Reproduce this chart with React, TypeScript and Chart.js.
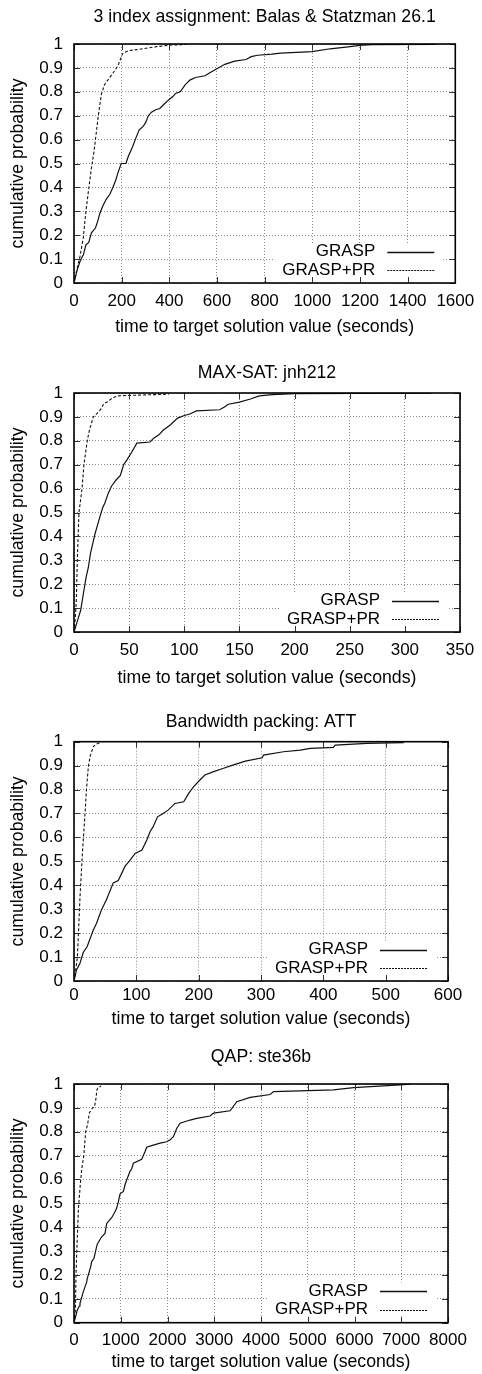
import React, { useEffect, useRef } from 'react';
import { Chart, registerables } from 'chart.js';

Chart.register(...registerables);

// ---------- data ----------
const SERIES_NAMES = ['GRASP', 'GRASP+PR'];
const X_AXIS_TITLE = 'time to target solution value (seconds)';
const Y_AXIS_TITLE = 'cumulative probability';

const Y_TICKS = [0, 0.1, 0.2, 0.3, 0.4, 0.5, 0.6, 0.7, 0.8, 0.9, 1];
const Y_TICK_LABELS = ['0', '0.1', '0.2', '0.3', '0.4', '0.5', '0.6', '0.7', '0.8', '0.9', '1'];

const TITLE_ASSIGN = '3 index assignment: Balas & Statzman 26.1';
const TITLE_MAXSAT = 'MAX-SAT: jnh212';
const TITLE_BWP = 'Bandwidth packing: ATT';
const TITLE_QAP = 'QAP: ste36b';

const X_TICKS_ASSIGN = [0, 200, 400, 600, 800, 1000, 1200, 1400, 1600];
const X_TICKS_MAXSAT = [0, 50, 100, 150, 200, 250, 300, 350];
const X_TICKS_BWP = [0, 100, 200, 300, 400, 500, 600];
const X_TICKS_QAP = [0, 1000, 2000, 3000, 4000, 5000, 6000, 7000, 8000];

const ASSIGN_GRASP: [number, number][] = [
  [0, 0], [12, 0.05], [25, 0.09], [40, 0.12], [50, 0.16], [62, 0.17], [73, 0.21], [90, 0.23],
  [100, 0.26], [108, 0.29], [120, 0.32], [135, 0.35], [150, 0.37], [163, 0.4], [175, 0.43],
  [184, 0.46], [198, 0.5], [218, 0.5], [228, 0.53], [246, 0.57], [257, 0.6], [273, 0.64],
  [290, 0.655], [300, 0.67], [312, 0.7], [325, 0.715], [343, 0.725], [360, 0.73], [380, 0.75],
  [398, 0.767], [415, 0.78], [426, 0.793], [446, 0.8], [467, 0.83], [488, 0.85], [510, 0.86],
  [550, 0.867], [570, 0.88], [605, 0.9], [633, 0.915], [674, 0.928], [722, 0.935], [743, 0.947],
  [771, 0.953], [830, 0.958], [867, 0.962], [999, 0.968], [1075, 0.98], [1150, 0.988],
  [1199, 0.994], [1250, 0.997], [1520, 0.998],
];
const ASSIGN_PR: [number, number][] = [
  [0, 0], [15, 0.07], [25, 0.11], [39, 0.19], [50, 0.3], [60, 0.38], [73, 0.48], [84, 0.55],
  [90, 0.6], [102, 0.7], [115, 0.79], [128, 0.83], [150, 0.86], [168, 0.885], [185, 0.91],
  [204, 0.96], [228, 0.972], [273, 0.978], [340, 0.988], [398, 0.995], [473, 0.998],
];

const MAXSAT_GRASP: [number, number][] = [
  [0, 0], [2, 0.03], [4, 0.06], [6, 0.09], [8.5, 0.16], [11, 0.23], [13, 0.27], [15, 0.33],
  [17, 0.37], [19, 0.41], [21.5, 0.45], [24, 0.49], [26, 0.52], [28, 0.54], [31, 0.58],
  [34, 0.61], [38, 0.635], [42, 0.655], [45, 0.7], [48, 0.72], [52, 0.75], [57, 0.79],
  [69, 0.795], [72, 0.81], [77, 0.825], [81, 0.845], [87, 0.865], [94, 0.895], [100, 0.906],
  [105, 0.912], [111, 0.925], [132, 0.93], [136, 0.94], [140, 0.953], [150, 0.962],
  [160, 0.975], [168, 0.988], [180, 0.993], [200, 0.997], [323, 0.999],
];
const MAXSAT_PR: [number, number][] = [
  [0, 0], [1, 0.05], [2, 0.12], [3, 0.3], [4.5, 0.5], [7.3, 0.6], [9, 0.7], [12, 0.8],
  [14, 0.845], [17.5, 0.9], [21, 0.915], [24, 0.93], [27, 0.955], [30, 0.962], [35, 0.98],
  [40, 0.988], [50, 0.99], [86, 0.995],
];

const BWP_GRASP: [number, number][] = [
  [0, 0], [4, 0.046], [9.6, 0.074], [15, 0.12], [21, 0.143], [31, 0.213], [36, 0.24],
  [44, 0.297], [52, 0.34], [63, 0.41], [71, 0.42], [82, 0.48], [90, 0.505], [98, 0.533],
  [109, 0.547], [117, 0.59], [122, 0.624], [127, 0.645], [134, 0.686], [143, 0.7],
  [151, 0.714], [162, 0.742], [176, 0.749], [184, 0.784], [192, 0.812], [202, 0.84],
  [210, 0.861], [224, 0.875], [240, 0.889], [256, 0.903], [275, 0.919], [302, 0.933],
  [304, 0.944], [336, 0.958], [363, 0.965], [379, 0.972], [416, 0.976], [419, 0.986],
  [470, 0.993], [529, 0.996],
];
const BWP_PR: [number, number][] = [
  [0, 0], [3, 0.05], [5.4, 0.1], [8, 0.25], [9.6, 0.35], [13.4, 0.53], [17.7, 0.7],
  [20, 0.8], [23, 0.895], [26, 0.94], [31, 0.98], [36, 0.99], [42, 0.997],
];

const QAP_GRASP: [number, number][] = [
  [0, 0], [40, 0.03], [71, 0.053], [114, 0.07], [128, 0.081], [200, 0.13], [271, 0.17],
  [285, 0.186], [357, 0.235], [378, 0.256], [428, 0.27], [485, 0.32], [500, 0.33],
  [592, 0.36], [663, 0.374], [700, 0.416], [806, 0.44], [877, 0.465], [913, 0.48],
  [949, 0.507], [985, 0.54], [1056, 0.55], [1092, 0.578], [1127, 0.598], [1199, 0.634],
  [1234, 0.645], [1270, 0.668], [1449, 0.685], [1520, 0.717], [1556, 0.735], [1662, 0.742],
  [1842, 0.752], [1983, 0.758], [2056, 0.766], [2126, 0.779], [2199, 0.815], [2269, 0.836],
  [2483, 0.849], [2626, 0.856], [2911, 0.866], [2983, 0.878], [3340, 0.888], [3482, 0.926],
  [3768, 0.944], [4196, 0.956], [4268, 0.968], [5552, 0.975], [5980, 0.985], [6979, 0.996],
  [7193, 0.999],
];
const QAP_PR: [number, number][] = [
  [0, 0], [30, 0.05], [43, 0.2], [60, 0.3], [95, 0.48], [135, 0.58], [170, 0.65],
  [210, 0.7], [250, 0.8], [290, 0.83], [330, 0.88], [400, 0.9], [440, 0.905], [470, 0.94],
  [490, 0.975], [506, 0.982], [578, 0.992],
];

// ---------- layout / style ----------
const FONT_FAMILY = '"Liberation Sans", Arial, Helvetica, sans-serif';
const FONT_SIZE = 17;
const TITLE_SIZE = 17.7;
const LINE_H = FONT_SIZE * 1.2;
const TITLE_LINE_H = TITLE_SIZE * 1.2;
const CANVAS_W = 482;
const PLOT_LEFT = 74;
const YLABEL_RIGHT = 63;
const YTITLE_CX = 18.5;

type Layout = {
  top: number; bottom: number; titleCenter: number; plotTop: number; plotBottom: number;
  plotRight: number; tickGap: number; xTitleCenter: number;
};

const framePlugin = {
  id: 'gnuframe',
  afterDatasetsDraw(chart: any) {
    const { ctx, chartArea } = chart;
    const { left, right, top, bottom } = chartArea;
    const xs = chart.scales.x;
    const ys = chart.scales.y;
    ctx.save();
    // key area (grid hole)
    ctx.fillStyle = '#ffffff';
    ctx.fillRect(right - 180, bottom - 40, 168, 40);

    // inward tick marks on all four sides
    ctx.strokeStyle = '#333';
    ctx.lineWidth = 1;
    ctx.setLineDash([]);
    ctx.beginPath();
    const tl = 6;
    xs.ticks.forEach((t: any) => {
      const px = Math.round(xs.getPixelForValue(t.value)) + 0.5;
      ctx.moveTo(px, bottom); ctx.lineTo(px, bottom - tl);
      ctx.moveTo(px, top); ctx.lineTo(px, top + tl);
    });
    ys.ticks.forEach((t: any) => {
      const py = Math.round(ys.getPixelForValue(t.value)) + 0.5;
      ctx.moveTo(left, py); ctx.lineTo(left + tl, py);
      ctx.moveTo(right, py); ctx.lineTo(right - tl, py);
    });
    ctx.stroke();

    // border
    ctx.strokeStyle = '#000';
    ctx.lineWidth = 1.6;
    ctx.strokeRect(left, top, right - left, bottom - top);

    // key
    ctx.fillStyle = '#000';
    ctx.font = `${FONT_SIZE}px ${FONT_FAMILY}`;
    ctx.textAlign = 'right';
    ctx.textBaseline = 'middle';
    const rows = [bottom - 31.5, bottom - 13];
    chart.data.datasets.forEach((ds: any, i: number) => {
      const y = rows[i];
      ctx.fillText(ds.label, right - 80, y);
      ctx.beginPath();
      ctx.strokeStyle = '#111';
      ctx.lineWidth = i === 0 ? 1.3 : 1;
      ctx.setLineDash(i === 0 ? [] : [2, 1]);
      ctx.moveTo(right - 68, Math.round(y) + 0.5);
      ctx.lineTo(right - 21, Math.round(y) + 0.5);
      ctx.stroke();
    });
    ctx.restore();
  },
};

function Panel(props: {
  title: string; grasp: [number, number][]; pr: [number, number][]; xTicks: number[]; layout: Layout;
}) {
  const { title, grasp, pr, xTicks, layout: L } = props;
  const ref = useRef<HTMLCanvasElement | null>(null);
  const H = L.bottom - L.top;

  useEffect(() => {
    if (!ref.current) return;
    const font = { family: FONT_FAMILY, size: FONT_SIZE, weight: 'normal' as const, lineHeight: 1.2 };
    const tfont = { family: FONT_FAMILY, size: TITLE_SIZE, weight: 'normal' as const, lineHeight: 1.2 };
    const chart = new Chart(ref.current, {
      type: 'scatter',
      data: {
        datasets: [
          {
            label: SERIES_NAMES[0],
            data: grasp.map(([x, y]) => ({ x, y })),
            showLine: true,
            borderColor: '#111',
            borderWidth: 1.2,
            pointRadius: 0,
            fill: false,
            tension: 0,
          },
          {
            label: SERIES_NAMES[1],
            data: pr.map(([x, y]) => ({ x, y })),
            showLine: true,
            borderColor: '#111',
            borderWidth: 1.1,
            borderDash: [3, 2],
            pointRadius: 0,
            fill: false,
            tension: 0,
          },
        ],
      },
      options: {
        animation: false,
        responsive: false,
        maintainAspectRatio: false,
        events: [],
        layout: { padding: { left: 0, right: CANVAS_W - L.plotRight, top: 0, bottom: 0 } },
        plugins: {
          legend: { display: false },
          tooltip: { enabled: false },
          title: {
            display: true,
            text: title,
            fullSize: false,
            color: '#000',
            font: tfont,
            padding: {
              top: L.titleCenter - L.top - TITLE_LINE_H / 2,
              bottom: L.plotTop - L.titleCenter - TITLE_LINE_H / 2,
            },
          },
        },
        scales: {
          x: {
            type: 'linear',
            min: xTicks[0],
            max: xTicks[xTicks.length - 1],
            afterBuildTicks: (s: any) => { s.ticks = xTicks.map((v) => ({ value: v })); },
            afterFit: (s: any) => { s.height = L.bottom - L.plotBottom; },
            grid: { drawTicks: false, color: '#8c8c8c', lineWidth: 1 },
            border: { display: false, dash: [1, 2] },
            ticks: {
              padding: L.tickGap - LINE_H / 2,
              color: '#000',
              font,
              maxRotation: 0,
              autoSkip: false,
              callback: (v: any) => String(v),
            },
            title: {
              display: true,
              text: X_AXIS_TITLE,
              color: '#000',
              font: tfont,
              padding: { top: 0, bottom: L.bottom - L.xTitleCenter - TITLE_LINE_H / 2 },
            },
          },
          y: {
            type: 'linear',
            min: 0,
            max: 1,
            afterBuildTicks: (s: any) => { s.ticks = Y_TICKS.map((v) => ({ value: v })); },
            afterFit: (s: any) => { s.width = PLOT_LEFT; },
            grid: { drawTicks: false, color: '#8c8c8c', lineWidth: 1 },
            border: { display: false, dash: [1, 2] },
            ticks: {
              padding: PLOT_LEFT - YLABEL_RIGHT,
              color: '#000',
              font,
              autoSkip: false,
              callback: (_v: any, i: number) => Y_TICK_LABELS[i],
            },
            title: {
              display: true,
              text: Y_AXIS_TITLE,
              color: '#000',
              font: tfont,
              padding: { top: YTITLE_CX - TITLE_LINE_H / 2, bottom: 0 },
            },
          },
        },
      },
      plugins: [framePlugin],
    } as any);
    return () => chart.destroy();
  }, []);

  return (
    <canvas
      ref={ref}
      width={CANVAS_W}
      height={H}
      style={{ position: 'absolute', left: 0, top: L.top, width: CANVAS_W, height: H, display: 'block' }}
    />
  );
}

const LAYOUTS: Layout[] = [
  { top: 0, bottom: 340, titleCenter: 17.5, plotTop: 44, plotBottom: 283, plotRight: 460, tickGap: 18, xTitleCenter: 327 },
  { top: 345, bottom: 692, titleCenter: 373.5, plotTop: 393, plotBottom: 632, plotRight: 460, tickGap: 18, xTitleCenter: 678 },
  { top: 700, bottom: 1032, titleCenter: 721.7, plotTop: 741.7, plotBottom: 981, plotRight: 448, tickGap: 14, xTitleCenter: 1019 },
  { top: 1036, bottom: 1374, titleCenter: 1057.5, plotTop: 1084, plotBottom: 1322.7, plotRight: 448, tickGap: 18, xTitleCenter: 1362.5 },
];

export default function App() {
  return (
    <div style={{ position: 'absolute', left: 0, top: 0, width: CANVAS_W, height: 1374, background: '#fff', overflow: 'hidden' }}>
      <Panel title={TITLE_ASSIGN} grasp={ASSIGN_GRASP} pr={ASSIGN_PR} xTicks={X_TICKS_ASSIGN} layout={LAYOUTS[0]} />
      <Panel title={TITLE_MAXSAT} grasp={MAXSAT_GRASP} pr={MAXSAT_PR} xTicks={X_TICKS_MAXSAT} layout={LAYOUTS[1]} />
      <Panel title={TITLE_BWP} grasp={BWP_GRASP} pr={BWP_PR} xTicks={X_TICKS_BWP} layout={LAYOUTS[2]} />
      <Panel title={TITLE_QAP} grasp={QAP_GRASP} pr={QAP_PR} xTicks={X_TICKS_QAP} layout={LAYOUTS[3]} />
    </div>
  );
}
